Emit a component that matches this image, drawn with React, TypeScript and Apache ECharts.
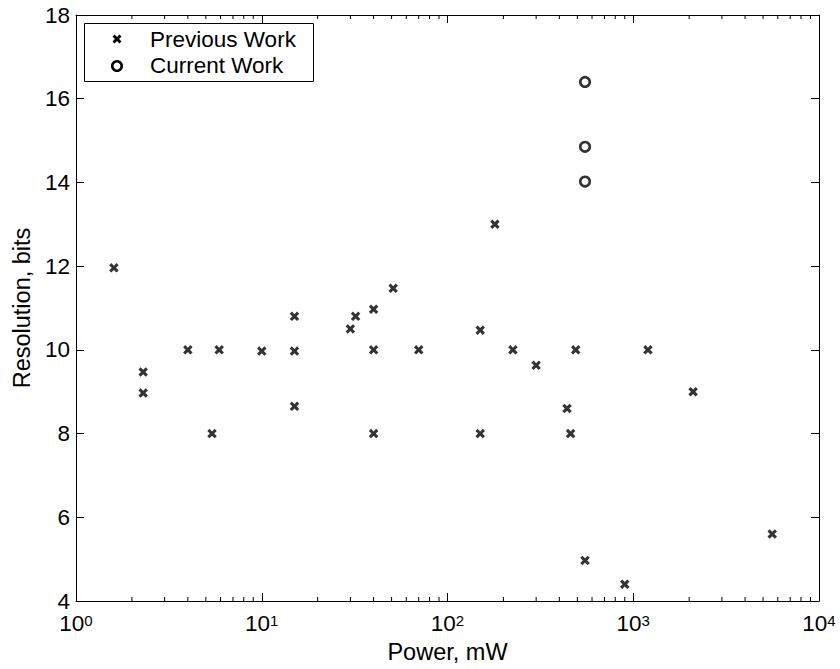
import React, { useEffect, useRef } from "react";
import * as echarts from "echarts";

const prevPower = [1.6, 2.3, 2.3, 4, 5.9, 5.4, 10, 15, 15, 15, 30, 32, 40, 40, 40, 51, 70, 150, 150, 180, 225, 300, 440, 460, 490, 550, 900, 1200, 2100, 5600];
const prevBits = [11.96, 9.47, 8.97, 10, 10, 8, 9.97, 10.8, 9.97, 8.65, 10.5, 10.8, 10.97, 10, 8, 11.47, 10, 10.47, 8, 13, 10, 9.63, 8.6, 8, 10, 4.97, 4.4, 10, 9, 5.6];
const currPower = [550, 550, 550];
const currBits = [16.4, 14.85, 14.02];
const minorTickValues = [2, 3, 4, 5, 6, 7, 8, 9, 20, 30, 40, 50, 60, 70, 80, 90, 200, 300, 400, 500, 600, 700, 800, 900, 2000, 3000, 4000, 5000, 6000, 7000, 8000, 9000];
const yTicks = [4, 6, 8, 10, 12, 14, 16, 18];
const legendNames = ["Previous Work", "Current Work"];

const FONT = "'Liberation Sans', Arial, Helvetica, sans-serif";
const X_UNIT: number[][] = [[0, 2.3], [2.3, 0], [5, 2.7], [7.7, 0], [10, 2.3], [7.3, 5], [10, 7.7], [7.7, 10], [5, 7.3], [2.3, 10], [0, 7.7], [2.7, 5]];
const X_PATH = "path://M" + X_UNIT.map((p) => p.join(",")).join(" L") + " Z";

export default function App() {
  const ref = useRef<HTMLDivElement>(null);
  useEffect(() => {
    if (!ref.current) return;
    const chart = echarts.init(ref.current, null, { renderer: "svg" });
    const yMin = yTicks[0];
    const yMax = yTicks[yTicks.length - 1];
    const axisLine = { show: true, onZero: false, lineStyle: { color: "#000", width: 1 } };
    const xSize = 9;
    const legX = 117;
    const row1 = 39;
    const row2 = 66;
    const xPoints = X_UNIT.map((p) => [legX - xSize / 2 + (p[0] * xSize) / 10, row1 - xSize / 2 + (p[1] * xSize) / 10]);
    chart.setOption({
      animation: false,
      backgroundColor: "#fff",
      grid: { left: 76, right: 21, top: 15, bottom: 68, containLabel: false },
      legend: { show: false },
      graphic: [
        {
          type: "group",
          z: 100,
          children: [
            { type: "rect", shape: { x: 84.5, y: 23.5, width: 229, height: 58 }, style: { fill: "#fff", stroke: "#000", lineWidth: 1 } },
            { type: "polygon", shape: { points: xPoints }, style: { fill: "#000" } },
            { type: "circle", shape: { cx: legX, cy: row2, r: 4.75 }, style: { fill: "#fff", stroke: "#000", lineWidth: 2.6 } },
            { type: "text", x: 150, y: row1, style: { text: legendNames[0], fontFamily: FONT, fontSize: 22.5, fill: "#000", verticalAlign: "middle", align: "left" } },
            { type: "text", x: 150, y: row2 - 1, style: { text: legendNames[1], fontFamily: FONT, fontSize: 22.5, fill: "#000", verticalAlign: "middle", align: "left" } },
          ],
        },
      ],
      xAxis: [
        {
          type: "log",
          logBase: 10,
          min: 1,
          max: 10000,
          position: "bottom",
          axisLine,
          axisTick: { show: true, inside: true, length: 8, lineStyle: { color: "#000" } },
          splitLine: { show: false },
          axisLabel: {
            margin: 12,
            color: "#000",
            fontFamily: FONT,
            formatter: (v: number) => `{b|10}{e|${Math.round(Math.log10(v))}}`,
            rich: {
              b: { fontSize: 22.5, fontFamily: FONT, color: "#000", lineHeight: 22, padding: [2, 0, 0, 0], verticalAlign: "bottom" },
              e: { fontSize: 15, fontFamily: FONT, color: "#000", lineHeight: 10, verticalAlign: "top" },
            },
          },
          name: "Power, mW",
          nameLocation: "middle",
          nameGap: 39,
          nameTextStyle: { fontFamily: FONT, fontSize: 23.5, color: "#000" },
        },
        {
          type: "log",
          logBase: 10,
          min: 1,
          max: 10000,
          position: "top",
          axisLine,
          axisTick: { show: true, inside: true, length: 8, lineStyle: { color: "#000" } },
          axisLabel: { show: false },
          splitLine: { show: false },
        },
      ],
      yAxis: [
        {
          type: "value",
          min: yMin,
          max: yMax,
          interval: 2,
          position: "left",
          axisLine,
          axisTick: { show: true, inside: true, length: 8, lineStyle: { color: "#000" } },
          splitLine: { show: false },
          axisLabel: { margin: 6, color: "#000", fontFamily: FONT, fontSize: 22.5, lineHeight: 14 },
          name: "Resolution, bits",
          nameLocation: "middle",
          nameGap: 40,
          nameTextStyle: { fontFamily: FONT, fontSize: 23.5, color: "#000" },
        },
        {
          type: "value",
          min: yMin,
          max: yMax,
          interval: 2,
          position: "right",
          axisLine,
          axisTick: { show: true, inside: true, length: 8, lineStyle: { color: "#000" } },
          axisLabel: { show: false },
          splitLine: { show: false },
        },
      ],
      series: [
        {
          type: "custom",
          name: "minorTicks",
          xAxisIndex: 0,
          yAxisIndex: 0,
          silent: true,
          data: minorTickValues.map((v) => [v]),
          renderItem: (params: any, api: any) => {
            const v = api.value(0);
            const b = api.coord([v, yMin]);
            const t = api.coord([v, yMax]);
            const len = 4;
            return {
              type: "group",
              children: [
                { type: "line", shape: { x1: b[0], y1: b[1], x2: b[0], y2: b[1] - len }, style: { stroke: "#000", lineWidth: 1 } },
                { type: "line", shape: { x1: t[0], y1: t[1], x2: t[0], y2: t[1] + len }, style: { stroke: "#000", lineWidth: 1 } },
              ],
            };
          },
        },
        {
          type: "scatter",
          name: legendNames[0],
          symbol: X_PATH,
          symbolSize: 9.5,
          itemStyle: { color: "#000" },
          data: prevPower.map((p, i) => [p, prevBits[i]]),
          z: 3,
        },
        {
          type: "scatter",
          name: legendNames[1],
          symbol: "circle",
          symbolSize: 9.5,
          itemStyle: { color: "#fff", borderColor: "#000", borderWidth: 2.6 },
          data: currPower.map((p, i) => [p, currBits[i]]),
          z: 3,
        },
      ],
    });
    return () => chart.dispose();
  }, []);
  return <div ref={ref} style={{ position: "fixed", left: 0, top: 0, width: 840, height: 669 }} />;
}
